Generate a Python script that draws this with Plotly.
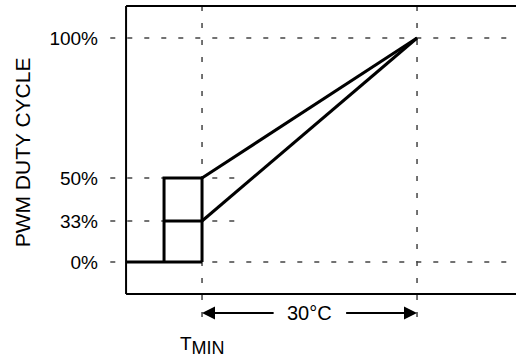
import plotly.graph_objects as go

# duty cycle levels and where they sit on the (schematic, non-linear) axis
duty_labels = ["0%", "33%", "50%", "100%"]
duty_pos = [0, 18.3, 37.5, 100]

# temperatures relative to T_MIN (degC)
t_start = -5.3      # fan kicks on here (hysteresis step)
t_min = 0
t_full = 30         # T_MIN + 30 degC -> 100%

# frame / drawing extents
x_lo, x_hi = -13.12, 43.81
y_lo, y_hi = -42.86, 116.96
frame_left, frame_top, frame_bot = -10.6, 114.3, -14.3

LINE = dict(color="black", width=3)
DASH = dict(color="#444444", width=1.5, dash="5px,12px")
FONT = "Liberation Sans, Arial, sans-serif"

p0, p33, p50, p100 = duty_pos

fig = go.Figure()

# off region
fig.add_trace(go.Scatter(x=[frame_left, t_min], y=[p0, p0], mode="lines", line=LINE))
# start-up box
fig.add_trace(go.Scatter(x=[t_start, t_start, t_min, t_min], y=[p0, p50, p50, p0],
                         mode="lines", line=LINE))
fig.add_trace(go.Scatter(x=[t_start, t_min], y=[p33, p33], mode="lines", line=LINE))
# ramps
fig.add_trace(go.Scatter(x=[t_min, t_full], y=[p50, p100], mode="lines", line=LINE))
fig.add_trace(go.Scatter(x=[t_min, t_full], y=[p33, p100], mode="lines", line=LINE))

# dashed guides
dash_left = -12.8
fig.add_shape(type="line", x0=dash_left, x1=x_hi, y0=p100, y1=p100, line=DASH, layer="below")
fig.add_shape(type="line", x0=dash_left, x1=x_hi, y0=p0, y1=p0, line=DASH, layer="below")
fig.add_shape(type="line", x0=dash_left, x1=5.3, y0=p50, y1=p50, line=DASH, layer="below")
fig.add_shape(type="line", x0=dash_left, x1=5.3, y0=p33, y1=p33, line=DASH, layer="below")
fig.add_shape(type="line", x0=t_min, x1=t_min, y0=frame_top, y1=-29.5, line=DASH, layer="below")
fig.add_shape(type="line", x0=t_full, x1=t_full, y0=frame_top, y1=-25, line=DASH, layer="below")

# frame (left, top, bottom)
FRAME = dict(color="black", width=2)
fig.add_shape(type="line", x0=frame_left, x1=frame_left, y0=frame_bot, y1=frame_top, line=FRAME)
fig.add_shape(type="line", x0=frame_left, x1=x_hi, y0=frame_top, y1=frame_top, line=FRAME)
fig.add_shape(type="line", x0=frame_left, x1=x_hi, y0=frame_bot, y1=frame_bot, line=FRAME)

# 30 degC span arrow
arrow_y = -22.8
mid = (t_min + t_full) / 2
for tip, tail in [(t_min, 10.2), (t_full, 19.9)]:
    fig.add_annotation(x=tip, y=arrow_y, ax=tail, ay=arrow_y, axref="x", ayref="y",
                       text="", showarrow=True, arrowhead=2, arrowsize=1.3,
                       arrowwidth=2, arrowcolor="black", standoff=0)
fig.add_annotation(x=mid, y=arrow_y, text="30°C", showarrow=False,
                   font=dict(size=20, color="black", family=FONT))
fig.add_annotation(x=t_min, y=-37.5, text="T<sub><span style='font-size:18px'>MIN</span></sub>",
                   showarrow=False, font=dict(size=19, color="black", family=FONT))

# y axis title
fig.add_annotation(x=-0.21, xref="paper", xanchor="center", y=49.1, text="PWM DUTY CYCLE",
                   textangle=-90, showarrow=False,
                   font=dict(size=21, color="black", family=FONT))

fig.update_xaxes(range=[x_lo, x_hi], visible=False)
fig.update_yaxes(range=[y_lo, y_hi], tickvals=duty_pos, ticktext=duty_labels,
                 showgrid=False, zeroline=False, showline=False, ticks="",
                 ticklabelstandoff=9, tickfont=dict(size=19, color="black", family=FONT))

fig.update_layout(
    width=516, height=358,
    margin=dict(l=108, r=0, t=0, b=0),
    plot_bgcolor="white", paper_bgcolor="white",
    showlegend=False,
    font=dict(family=FONT, color="black"),
)

fig.write_html("out.html", config={"displayModeBar": False},
               post_script="document.body.style.margin = '0';")
